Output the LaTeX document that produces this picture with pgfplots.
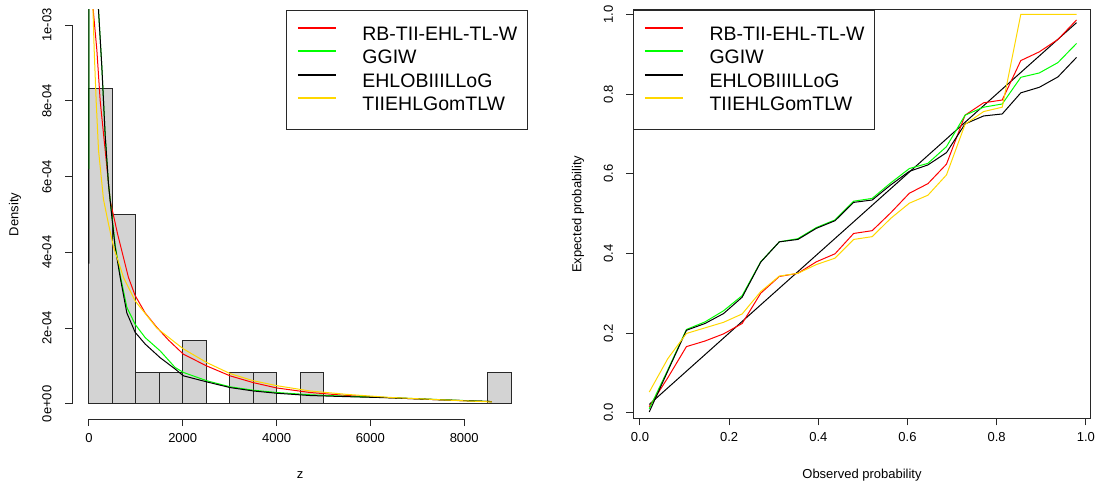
\documentclass[border=0pt]{standalone}
\usepackage{fontspec}
\setmainfont{Liberation Sans}
\usepackage{pgfplots}
\pgfplotsset{compat=1.18}
\definecolor{cRed}{rgb}{1,0,0}
\definecolor{cGreen}{rgb}{0,1,0}
\definecolor{cYellow}{rgb}{1,0.843,0}
\definecolor{histfill}{RGB}{211,211,211}
\definecolor{axcol}{RGB}{40,40,40}

\pgfplotsset{
  rstyle/.style={
    scale only axis,
    tick align=outside,
    major tick length=3.5pt,
    tick style={axcol, line width=0.5pt},
    ticklabel style={font=\fontsize{6.5}{7.8}\selectfont},
    label style={font=\fontsize{6.5}{7.8}\selectfont},
    /pgf/number format/assume math mode=true,
    scaled x ticks=false, scaled y ticks=false,
    yticklabel style={rotate=90, anchor=center, yshift=9pt},
    xticklabel style={anchor=center, yshift=-6pt},
    legend image code/.code={\draw[##1, line width=0.9pt] (0pt,3.5pt)--(19pt,3.5pt);},
    legend style={draw=axcol, fill=white,
      font=\fontsize{9.75}{11.7}\selectfont,
      inner xsep=5.15pt, inner ysep=8.2pt, row sep=3.4pt, column sep=12.85pt,
      nodes={inner sep=0pt}},
    legend cell align=left,
  }
}

\begin{document}
\begin{tikzpicture}
\useasboundingbox (0,0) rectangle (548.5pt,243.5pt);

% ---------------- left panel ----------------
\begin{axis}[rstyle,
  at={(36pt,34pt)}, anchor=south west,
  width=228pt, height=204.5pt,
  xmin=-360, xmax=9360, ymin=-4e-5, ymax=1.04e-3,
  axis x line*=bottom, axis y line*=left,
  axis line style={draw=none},
  clip mode=individual,
  xtick={0,2000,4000,6000,8000},
  xticklabels={0,2000,4000,6000,8000},
  ytick={0,2e-4,4e-4,6e-4,8e-4,1e-3},
  yticklabels={0e+00,2e-04,4e-04,6e-04,8e-04,1e-03},
  xlabel={z}, ylabel={Density},
  xlabel style={at={(axis description cs:0.5,-0.137)}, anchor=center},
  ylabel style={at={(axis description cs:-0.125,0.5)}, anchor=center, rotate=0},
  legend style={at={(1,1)}, anchor=north east},
]
\addlegendimage{color=cRed}
\addlegendentry{RB-TII-EHL-TL-W}
\addlegendimage{color=cGreen}
\addlegendentry{GGIW}
\addlegendimage{color=black}
\addlegendentry{EHLOBIIILLoG}
\addlegendimage{color=cYellow}
\addlegendentry{TIIEHLGomTLW}

\addplot[ybar interval, fill=histfill, draw=axcol, line width=0.5pt, forget plot] coordinates {
(0,8.3333e-4) (500,5e-4) (1000,8.3333e-5) (1500,8.3333e-5) (2000,1.66667e-4)
(2500,0) (3000,8.3333e-5) (3500,8.3333e-5) (4000,0) (4500,8.3333e-5)
(5000,0) (5500,0) (6000,0) (6500,0) (7000,0) (7500,0) (8000,0) (8500,8.3333e-5) (9000,0)};

\addplot[color=cRed, line width=0.5pt, forget plot] coordinates {
(60,1.3e-3)(85,1.05e-3)(170,9.34e-4)(241,8.0e-4)(347,6.7e-4)(454,5.37e-4)(609,4.5e-4)
(843,3.34e-4)(986,2.86e-4)(1200,2.4e-4)(1448,2.02e-4)(1700,1.68e-4)(2015,1.31e-4)
(2513,1.0e-4)(3009,7.4e-5)(3506,5.6e-5)(4003,4.2e-5)(4713,3.0e-5)(5500,2.2e-5)
(6416,1.6e-5)(7623,1.0e-5)(8590,6e-6)};

\addplot[color=cGreen, line width=0.5pt, forget plot] coordinates {
(0,6.2e-4)(3,1.4e-3)(150,1.3e-3)(205,1.04e-3)(276,8.9e-4)(347,7.1e-4)(418,5.8e-4)
(490,4.97e-4)(560,4.2e-4)(667,3.4e-4)(809,2.55e-4)(986,2.1e-4)(1199,1.75e-4)
(1518,1.40e-4)(1838,9.6e-5)(2015,8.3e-5)(2513,6.1e-5)(3009,4.5e-5)(3506,3.6e-5)
(4003,3.0e-5)(4713,2.4e-5)(5500,2.0e-5)(6416,1.65e-5)(7623,1.05e-5)(8590,6e-6)};

\addplot[color=black, line width=0.5pt, forget plot] coordinates {
(0,3.7e-4)(3,1.4e-3)(150,1.3e-3)(205,1.04e-3)(276,8.9e-4)(347,7.1e-4)(418,5.8e-4)
(490,4.93e-4)(560,4.13e-4)(667,3.34e-4)(809,2.4e-4)(986,1.89e-4)(1199,1.58e-4)
(1518,1.22e-4)(1838,9.2e-5)(2015,7.4e-5)(2513,5.8e-5)(3009,4.3e-5)(3506,3.4e-5)
(4003,2.8e-5)(4713,2.2e-5)(5500,1.9e-5)(6416,1.6e-5)(7623,1.0e-5)(8590,6e-6)};

\addplot[color=cYellow, line width=0.5pt, forget plot] coordinates {
(50,1.3e-3)(85,1.05e-3)(113,9.34e-4)(155,8.0e-4)(205,6.7e-4)(311,5.4e-4)(418,4.75e-4)
(524,4.15e-4)(737,3.34e-4)(986,2.72e-4)(1448,2.0e-4)(2015,1.45e-4)(2513,1.09e-4)
(3009,8.0e-5)(3506,6.1e-5)(4003,4.8e-5)(4713,3.4e-5)(5500,2.5e-5)(6416,1.7e-5)
(7623,1.0e-5)(8590,5e-6)};

\draw[axcol, line width=0.5pt] (axis cs:0,-4e-5) -- (axis cs:8000,-4e-5);
\draw[axcol, line width=0.5pt] (axis cs:-360,0) -- (axis cs:-360,1e-3);
\end{axis}

% ---------------- right panel ----------------
\begin{axis}[rstyle,
  at={(316.65pt,34.35pt)}, anchor=south west,
  width=228.7pt, height=204.15pt,
  xmin=-0.015, xmax=1.011, ymin=-0.014, ymax=1.011,
  axis line style={axcol, line width=0.5pt},
  xtick pos=bottom, ytick pos=left,
  xtick={0,0.2,0.4,0.6,0.8,1.0},
  xticklabels={0.0,0.2,0.4,0.6,0.8,1.0},
  ytick={0,0.2,0.4,0.6,0.8,1.0},
  yticklabels={0.0,0.2,0.4,0.6,0.8,1.0},
  xlabel={Observed probability}, ylabel={Expected probability},
  xlabel style={at={(axis description cs:0.5,-0.139)}, anchor=center},
  ylabel style={at={(axis description cs:-0.121,0.5)}, anchor=center, rotate=0},
  legend style={at={(0,1)}, anchor=north west},
]
\addlegendimage{color=cRed}
\addlegendentry{RB-TII-EHL-TL-W}
\addlegendimage{color=cGreen}
\addlegendentry{GGIW}
\addlegendimage{color=black}
\addlegendentry{EHLOBIIILLoG}
\addlegendimage{color=cYellow}
\addlegendentry{TIIEHLGomTLW}

\addplot[color=black, line width=0.5pt, forget plot] coordinates {(0.0208,0.0208)(0.9792,0.9792)};

\addplot[color=cRed, line width=0.5pt, forget plot] coordinates {
(0.0208,0.015)(0.0625,0.088)(0.1042,0.166)(0.1458,0.180)(0.1875,0.198)(0.2292,0.224)
(0.2708,0.300)(0.3125,0.342)(0.3542,0.350)(0.3958,0.379)(0.4375,0.399)(0.4792,0.450)
(0.5208,0.457)(0.5625,0.502)(0.6042,0.551)(0.6458,0.575)(0.6875,0.624)(0.7292,0.747)
(0.7708,0.778)(0.8125,0.785)(0.8542,0.884)(0.8958,0.906)(0.9375,0.937)(0.9792,0.986)};

\addplot[color=cGreen, line width=0.5pt, forget plot] coordinates {
(0.0208,0.010)(0.0625,0.108)(0.1042,0.209)(0.1458,0.228)(0.1875,0.256)(0.2292,0.294)
(0.2708,0.379)(0.3125,0.429)(0.3542,0.437)(0.3958,0.465)(0.4375,0.484)(0.4792,0.531)
(0.5208,0.538)(0.5625,0.577)(0.6042,0.613)(0.6458,0.626)(0.6875,0.668)(0.7292,0.747)
(0.7708,0.767)(0.8125,0.775)(0.8542,0.842)(0.8958,0.853)(0.9375,0.879)(0.9792,0.927)};

\addplot[color=black, line width=0.5pt, forget plot] coordinates {
(0.0208,0.002)(0.0625,0.105)(0.1042,0.207)(0.1458,0.224)(0.1875,0.249)(0.2292,0.290)
(0.2708,0.378)(0.3125,0.429)(0.3542,0.435)(0.3958,0.463)(0.4375,0.482)(0.4792,0.528)
(0.5208,0.534)(0.5625,0.572)(0.6042,0.606)(0.6458,0.622)(0.6875,0.653)(0.7292,0.725)
(0.7708,0.745)(0.8125,0.750)(0.8542,0.803)(0.8958,0.817)(0.9375,0.843)(0.9792,0.892)};

\addplot[color=cYellow, line width=0.5pt, forget plot] coordinates {
(0.0208,0.052)(0.0625,0.136)(0.1042,0.199)(0.1458,0.213)(0.1875,0.227)(0.2292,0.248)
(0.2708,0.304)(0.3125,0.343)(0.3542,0.350)(0.3958,0.372)(0.4375,0.388)(0.4792,0.435)
(0.5208,0.442)(0.5625,0.488)(0.6042,0.526)(0.6458,0.546)(0.6875,0.597)(0.7292,0.724)
(0.7708,0.756)(0.8125,0.767)(0.8542,1.0)(0.8958,1.0)(0.9375,1.0)(0.9792,1.0)};
\end{axis}
\end{tikzpicture}
\end{document}
